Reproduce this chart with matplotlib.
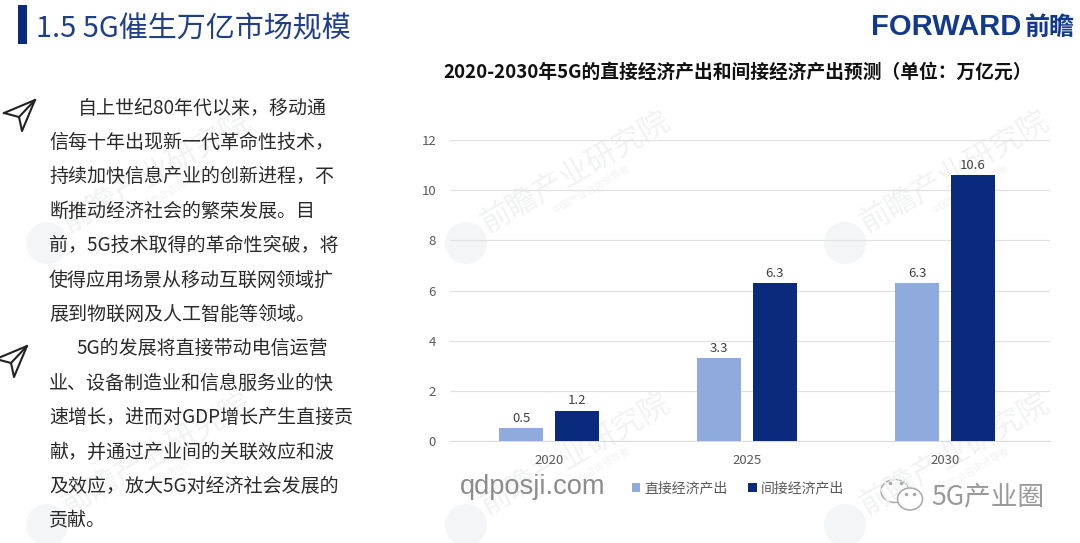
import numpy as np
import matplotlib
matplotlib.use('Agg')
import matplotlib.pyplot as plt
from matplotlib.patches import Rectangle, Ellipse

plt.rcParams['font.family'] = ['Noto Sans CJK SC', 'DejaVu Sans']

years = ['2020', '2025', '2030']
direct = [0.5, 3.3, 6.3]
indirect = [1.2, 6.3, 10.6]
series_names = ['直接经济产出', '间接经济产出']
yticks = [0, 2, 4, 6, 8, 10, 12]

chart_title = '2020-2030年5G的直接经济产出和间接经济产出预测（单位：万亿元）'
page_title = '1.5 5G催生万亿市场规模'
body_lines = ['自上世纪80年代以来，移动通', '信每十年出现新一代革命性技术，',
              '持续加快信息产业的创新进程，不', '断推动经济社会的繁荣发展。目',
              '前，5G技术取得的革命性突破，将', '使得应用场景从移动互联网领域扩',
              '展到物联网及人工智能等领域。', '5G的发展将直接带动电信运营',
              '业、设备制造业和信息服务业的快', '速增长，进而对GDP增长产生直接贡',
              '献，并通过产业间的关联效应和波', '及效应，放大5G对经济社会发展的',
              '贡献。']
body_x = [78, 49, 49, 49, 49, 49, 49, 76, 49, 49, 49, 49, 49]
body_y = [107, 141, 175, 210, 244, 279, 313, 347, 382, 416, 451, 485, 519]

W, H = 1080, 543
LIGHT = '#8faadc'
DARK = '#0a2a7e'

fig = plt.figure(figsize=(W / 100, H / 100), dpi=100, facecolor='white')

# overlay in image pixels for everything around the chart
bg = fig.add_axes([0, 0, 1, 1], zorder=0)
bg.set_xlim(0, W)
bg.set_ylim(H, 0)
bg.axis('off')

# watermarks, placed by the round logo
for cx, cy in [(47, 243), (466, 243), (845, 243), (47, 525), (466, 525), (845, 525)]:
    bg.add_patch(Ellipse((cx, cy), 42, 42, color='#f4f5f6', lw=0))
    bg.text(cx + 109, cy - 71, '前瞻产业研究院', fontsize=22, color='#f1f2f3', rotation=30,
            ha='center', va='center')
    bg.text(cx + 125, cy - 53, '中国产业咨询领导者', fontsize=7, color='#f3f3f4', rotation=30,
            ha='center', va='center')

# header
bg.add_patch(Rectangle((18, 5), 9, 39, color=DARK, lw=0))
bg.text(36, 29.5, page_title, fontsize=20.9, color='#1f3f8a', ha='left', va='center')
bg.text(871, 27, 'FORWARD', fontsize=21, color='#123a8c', ha='left', va='center',
        family='Liberation Sans', fontweight='bold')
bg.text(1025, 28, '前瞻', fontsize=18, color='#123a8c', ha='left', va='center', fontweight='bold')
bg.text(738, 72, chart_title, fontsize=13.5, fontweight='bold', color='#111111',
        ha='center', va='center')

# left text
for tx, ty, line in zip(body_x, body_y, body_lines):
    bg.text(tx, ty + 1, line, fontsize=13.7, color='#2a2a2a', ha='left', va='center')

# paper plane icons
for ox, oy in [(0, 100), (-8, 346)]:
    px = np.array([4, 35, 22, 19, 4]) + ox
    py = np.array([13, 0, 31, 17, 13]) + oy
    bg.plot(px, py, color='#222222', lw=1.5)
    bg.plot([19 + ox, 35 + ox], [17 + oy, 0 + oy], color='#222222', lw=1.5)

# bottom texts
bg.text(460, 487, 'qdposji.com', fontsize=19.6, color='#8c8c8c', ha='left', va='center',
        family='Liberation Sans')
bg.text(931, 497, '5G产业圈', fontsize=19.2, color='#9a9a9a', ha='left', va='center')
bg.add_patch(Ellipse((895, 491), 28, 23, fill=False, ec='#a8a8a8', lw=1.1))
bg.add_patch(Ellipse((910, 499), 25, 22, fc='white', ec='#a8a8a8', lw=1.1, zorder=3))
bg.plot([890, 901, 906, 914], [483, 483, 494, 494], ls='none', marker='o', ms=1.5,
        color='#a8a8a8', zorder=4)

# chart
ax = fig.add_axes([450 / W, 1 - 441 / H, 600 / W, 301 / H], zorder=1)
ax.patch.set_alpha(0)
x = np.arange(len(years))
bar_w = 0.222
offset = 0.141
b1 = ax.bar(x - offset, direct, bar_w, color=LIGHT, label=series_names[0], zorder=3)
b2 = ax.bar(x + offset, indirect, bar_w, color=DARK, label=series_names[1], zorder=3)
ax.bar_label(b1, fmt='%.1f', padding=2.5, fontsize=9.5, color='#404040')
ax.bar_label(b2, fmt='%.1f', padding=2.5, fontsize=9.5, color='#404040')

ax.set_xlim(-0.5, 2.53)
ax.set_ylim(0, 12)
ax.set_yticks(yticks)
ax.set_xticks(x, years)
ax.tick_params(length=0, labelsize=9.5, labelcolor='#595959')
ax.tick_params(axis='x', pad=9.5)
ax.tick_params(axis='y', pad=10)
ax.grid(axis='y', color='#e2e2e2', lw=0.9, zorder=0)
ax.set_axisbelow(True)
for s in ['top', 'right', 'left']:
    ax.spines[s].set_visible(False)
ax.spines['bottom'].set_color('#dcdcdc')

ax.legend(loc='center', bbox_to_anchor=((738 - 450) / 600, (441 - 488) / 301), ncol=2,
          frameon=False, fontsize=10, labelcolor='#595959', handlelength=0.6,
          handleheight=0.6, handletextpad=0.3, columnspacing=1.5, borderpad=0)

fig.savefig('out.png', dpi=100)
